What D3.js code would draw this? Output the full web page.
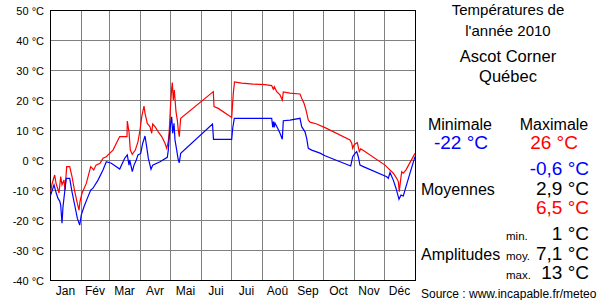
<!DOCTYPE html>
<html>
<head>
<meta charset="utf-8">
<script src="https://cdn.jsdelivr.net/npm/d3@7"></script>
<style>
  body { margin: 0; background: #fff; }
  svg text { font-family: "Liberation Sans", Arial, sans-serif; }
</style>
</head>
<body>
<div id="chart"></div>
<script>

// day of year (0 = 1 Jan), temperature in °C
var maxTemps = [[0.7,-10.6],[2,-8],[4.7,-5],[6,-7.7],[9,-11],[10.7,-5.5],[12,-8.3],[14,-6.7],[15,-10],[16.7,-2.2],[19.7,-2.2],[22,-5.5],[24.7,-10.5],[27.3,-14.4],[29,-16.7],[30,-13.9],[32,-11.1],[36.3,-7.8],[40.7,-2.2],[43.7,-3.3],[46,-1.7],[50,-1.1],[53,0.6],[56.3,1.1],[58,1.7],[63,3.3],[69.7,7.8],[77,7.8],[77.3,13],[79,9.4],[80.3,3.3],[82.3,1.9],[85.3,3.3],[88,6.1],[90,10],[91.7,14.4],[94,18],[95,15.6],[97.3,12.2],[100,11.1],[101.7,8.9],[102.7,12],[105,11.1],[108.3,9.4],[111.7,7.8],[115,5.6],[116.7,3.9],[118.3,6.1],[119.3,10],[120.7,19.4],[121.7,23.9],[122.3,25.8],[123.3,20],[124.3,23.3],[126,16.1],[127.3,13.3],[128.3,10],[129.3,7.8],[130,11.1],[130.7,13.9],[163.3,22.8],[164,17.8],[168.3,17.2],[181.7,14.2],[183.3,22.2],[184.5,26],[191.7,25.6],[203.3,25.3],[215,25.1],[221.7,24.8],[223.3,23.6],[224.3,24.4],[226.7,22.8],[230,21.7],[232.3,20],[233.3,22.7],[240,22.3],[250,22],[251.7,20.6],[254,18.9],[256,16.7],[258.3,13.3],[260,12.6],[266.7,12],[275,10.8],[300,6.7],[301.7,5.6],[302.7,3.9],[304,5],[306,5.6],[307.3,5.8],[309.3,2.8],[310.7,3.7],[312.7,3.3],[335,-1.7],[338.3,-2.8],[343.3,-4.4],[346.7,-6.1],[348.3,-7.2],[349.3,-10.6],[350,-8.3],[351.7,-3.9],[353.3,-4.4],[356,-3.3],[365,2.2]];

var minTemps = [[0.7,-11.7],[4,-8.3],[6.3,-11.1],[8,-12.8],[9.7,-13.7],[10.7,-15],[12,-21.1],[13,-15.6],[14.7,-10.6],[16.3,-6.1],[19.7,-6.1],[22,-10.6],[24.7,-15],[27.3,-19.4],[29.7,-21.7],[31.3,-18.3],[34,-15.6],[37.3,-12.8],[40.7,-10],[43,-9.4],[48,-6.7],[53,-3.3],[56.3,-0.6],[61.3,-1.1],[69.7,-3],[74.7,0.6],[77.3,1.7],[79,-1.7],[79.7,0],[82.3,-3.9],[84,-1.7],[86.3,0],[88,1.7],[90.7,2.2],[92.7,5.6],[95,8],[96.7,4.4],[98.3,0.6],[100,-1.7],[101,-3.1],[102.7,-1.7],[110,-0.6],[117.3,0.9],[118.3,3.3],[119.3,7.8],[120.7,12.2],[121.7,14.4],[122.7,8.9],[124,12.2],[125,6.7],[126.7,3.3],[128.3,0],[129.3,-0.9],[130.7,2.2],[162.5,12],[163.5,6.9],[181.7,6.9],[182.7,10.6],[184.3,13.9],[221.7,13.9],[222.7,10.9],[223.5,12.8],[224.2,10.9],[225,12.3],[227.7,10.6],[230,8.9],[232.3,6.9],[233.3,13.1],[240,13.3],[250,13.9],[251.7,11.1],[255,9.4],[256.7,7.2],[258.3,3.9],[261.7,3.3],[270,2.3],[275,1.4],[300.7,-2],[302.7,1.1],[305,2.2],[306.7,2.8],[308.3,1.1],[310,-1.7],[313.3,-2.2],[336.7,-5.6],[338.3,-6.1],[340,-4.2],[343.3,-6.7],[346,-9.4],[349,-13.1],[351,-11.7],[353.3,-12],[356,-8.9],[360,-4.4],[365,1.1]];

var monthNames = ["Jan", "Fév", "Mar", "Avr", "Mai", "Jui", "Jui", "Aoû", "Sep", "Oct", "Nov", "Déc"];
var monthStarts = [0, 31, 59, 90, 120, 151, 181, 212, 243, 273, 304, 334, 365];
var tempTicks = [50, 40, 30, 20, 10, 0, -10, -20, -30, -40];

var titleLines = ["Températures de", "l'année 2010"];
var placeLines = ["Ascot Corner", "Québec"];
var extremes = { min: "-22 °C", max: "26 °C" };
var averages = ["-0,6 °C", "2,9 °C", "6,5 °C"];
var amplitudeNames = ["min.", "moy.", "max."];
var amplitudes = ["1 °C", "7,1 °C", "13 °C"];

var margin = { top: 10, left: 50 };
var width = 365, height = 270;

var svg = d3.select("#chart")
  .append("svg")
  .attr("width", 600)
  .attr("height", 300);

svg.append("rect").attr("width", 600).attr("height", 300).attr("fill", "#fff");

var chartGroup = svg.append("g")
  .attr("transform", `translate(${margin.left}, ${margin.top})`);

var xScale = d3.scaleLinear().domain([0, 365]).range([0, width]);
var yScale = d3.scaleLinear().domain([-40, 50]).range([height, 0]);

// grid
chartGroup.selectAll(".hgrid")
  .data(tempTicks)
  .enter()
  .append("line")
  .attr("x1", 0).attr("x2", width)
  .attr("y1", d => yScale(d) + 0.5).attr("y2", d => yScale(d) + 0.5)
  .attr("stroke", "#808080");

chartGroup.selectAll(".vgrid")
  .data(monthStarts.slice(1, 12))
  .enter()
  .append("line")
  .attr("x1", d => xScale(d) + 0.5).attr("x2", d => xScale(d) + 0.5)
  .attr("y1", 0).attr("y2", height)
  .attr("stroke", "#808080");

chartGroup.append("rect")
  .attr("x", 0.5).attr("y", 0.5)
  .attr("width", width).attr("height", height)
  .attr("fill", "none")
  .attr("stroke", "#000");

// y labels
chartGroup.selectAll(".ylab")
  .data(tempTicks)
  .enter()
  .append("text")
  .attr("x", -6)
  .attr("y", d => yScale(d) + 5)
  .attr("text-anchor", "end")
  .attr("font-size", "11px")
  .attr("fill", "#000")
  .text(d => d + " °C");

// month labels
chartGroup.selectAll(".mlab")
  .data(monthNames)
  .enter()
  .append("text")
  .attr("x", (d, i) => xScale((monthStarts[i] + monthStarts[i + 1]) / 2))
  .attr("y", height + 15)
  .attr("text-anchor", "middle")
  .attr("font-size", "12px")
  .text(d => d);

var line = d3.line()
  .x(d => xScale(d[0]))
  .y(d => yScale(d[1]));

chartGroup.append("path")
  .datum(maxTemps)
  .attr("d", line)
  .attr("fill", "none")
  .attr("stroke", "#ff0000")
  .attr("stroke-width", 1.2);

chartGroup.append("path")
  .datum(minTemps)
  .attr("d", line)
  .attr("fill", "none")
  .attr("stroke", "#0000ff")
  .attr("stroke-width", 1.2);

// side panel
var panel = svg.append("g");

function addText(x, y, str, size, anchor, color) {
  panel.append("text")
    .attr("x", x).attr("y", y)
    .attr("text-anchor", anchor)
    .attr("font-size", size + "px")
    .attr("fill", color || "#000")
    .text(str);
}

addText(508, 15, titleLines[0], 15, "middle");
addText(508, 36, titleLines[1], 15, "middle");
addText(508, 62, placeLines[0], 16.5, "middle");
addText(508, 82, placeLines[1], 16.5, "middle");

addText(460, 130, "Minimale", 16, "middle");
addText(554, 130, "Maximale", 16, "middle");
addText(461, 149, extremes.min, 19, "middle", "#0000ff");
addText(554, 149, extremes.max, 19, "middle", "#ff0000");

addText(421, 195, "Moyennes", 16, "start");
var avgColors = ["#0000ff", "#000", "#ff0000"];
averages.forEach(function(v, i) {
  addText(589, 175 + i * 19.5, v, 19, "end", avgColors[i]);
});

addText(421, 260, "Amplitudes", 16, "start");
amplitudes.forEach(function(v, i) {
  addText(506, 240 + i * 19.5, amplitudeNames[i], 11.5, "start");
  addText(589, 240 + i * 19.5, v, 19, "end");
});

addText(421, 298, "Source : www.incapable.fr/meteo", 12, "start");

</script>
</body>
</html>
